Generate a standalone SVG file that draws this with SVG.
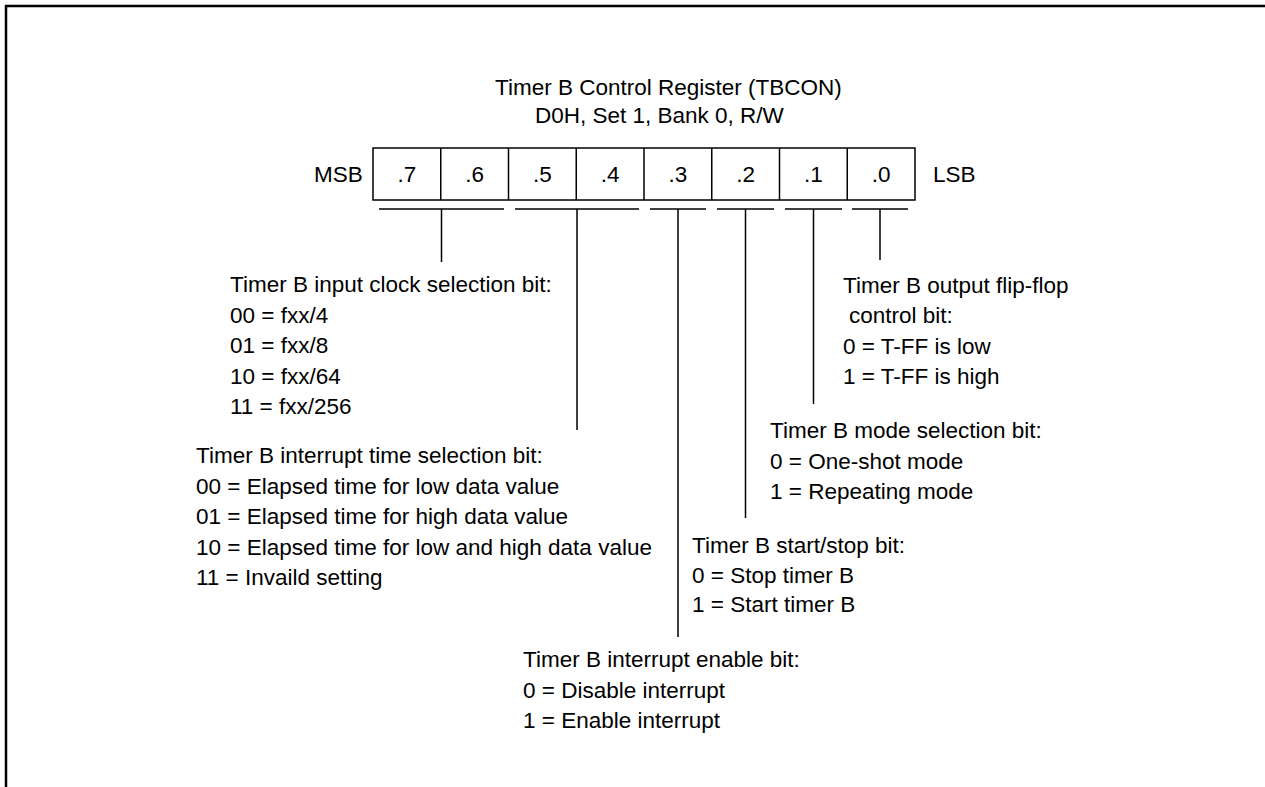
<svg xmlns="http://www.w3.org/2000/svg" width="1265" height="787" viewBox="0 0 1265 787">
<style>
text{font-family:"Liberation Sans",Arial,Helvetica,sans-serif;font-size:22.5px;fill:#000}
.c{text-anchor:middle}
.ln{stroke:#000;stroke-width:1.5;fill:none}
</style>
<rect width="1265" height="787" fill="#fff"/>
<path d="M6,787 V6 H1265" fill="none" stroke="#000" stroke-width="2.5"/>
<g id="title">
<text x="495" y="95">Timer B Control Register (TBCON)</text>
<text x="535" y="123">D0H, Set 1, Bank 0, R/W</text>
</g>
<g id="register">
<text x="314" y="182">MSB</text>
<text x="933" y="182">LSB</text>
<rect x="373" y="148" width="542" height="52" class="ln"/>
<path class="ln" d="M440.75,148V200M508.5,148V200M576.25,148V200M644,148V200M711.75,148V200M779.5,148V200M847.25,148V200"/>
<text class="c" x="406.9" y="182">.7</text>
<text class="c" x="474.6" y="182">.6</text>
<text class="c" x="542.4" y="182">.5</text>
<text class="c" x="610.1" y="182">.4</text>
<text class="c" x="677.9" y="182">.3</text>
<text class="c" x="745.6" y="182">.2</text>
<text class="c" x="813.4" y="182">.1</text>
<text class="c" x="881.1" y="182">.0</text>
</g>
<g id="connectors" class="ln">
<path d="M379,209H504M515,209H639M650,209H706M717,209H774M785,209H842M852,209H908"/>
<path d="M441.5,209V262M577,209V430M678,209V637M745.5,209V518M813.5,209V404M880,209V260"/>
</g>
<g id="bit76">
<text x="230" y="292">Timer B input clock selection bit:</text>
<text x="230" y="322.5">00 = fxx/4</text>
<text x="230" y="353">01 = fxx/8</text>
<text x="230" y="383.5">10 = fxx/64</text>
<text x="230" y="414">11 = fxx/256</text>
</g>
<g id="bit54">
<text x="196" y="463">Timer B interrupt time selection bit:</text>
<text x="196" y="493.5">00 = Elapsed time for low data value</text>
<text x="196" y="524">01 = Elapsed time for high data value</text>
<text x="196" y="554.5">10 = Elapsed time for low and high data value</text>
<text x="196" y="585">11 = Invaild setting</text>
</g>
<g id="bit3">
<text x="523" y="667">Timer B interrupt enable bit:</text>
<text x="523" y="697.5">0 = Disable interrupt</text>
<text x="523" y="728">1 = Enable interrupt</text>
</g>
<g id="bit2">
<text x="692" y="553">Timer B start/stop bit:</text>
<text x="692" y="582.5">0 = Stop timer B</text>
<text x="692" y="612">1 = Start timer B</text>
</g>
<g id="bit1">
<text x="770" y="438">Timer B mode selection bit:</text>
<text x="770" y="468.5">0 = One-shot mode</text>
<text x="770" y="499">1 = Repeating mode</text>
</g>
<g id="bit0">
<text x="843" y="293">Timer B output flip-flop</text>
<text x="849" y="323">control bit:</text>
<text x="843" y="353.5">0 = T-FF is low</text>
<text x="843" y="384">1 = T-FF is high</text>
</g>
</svg>
